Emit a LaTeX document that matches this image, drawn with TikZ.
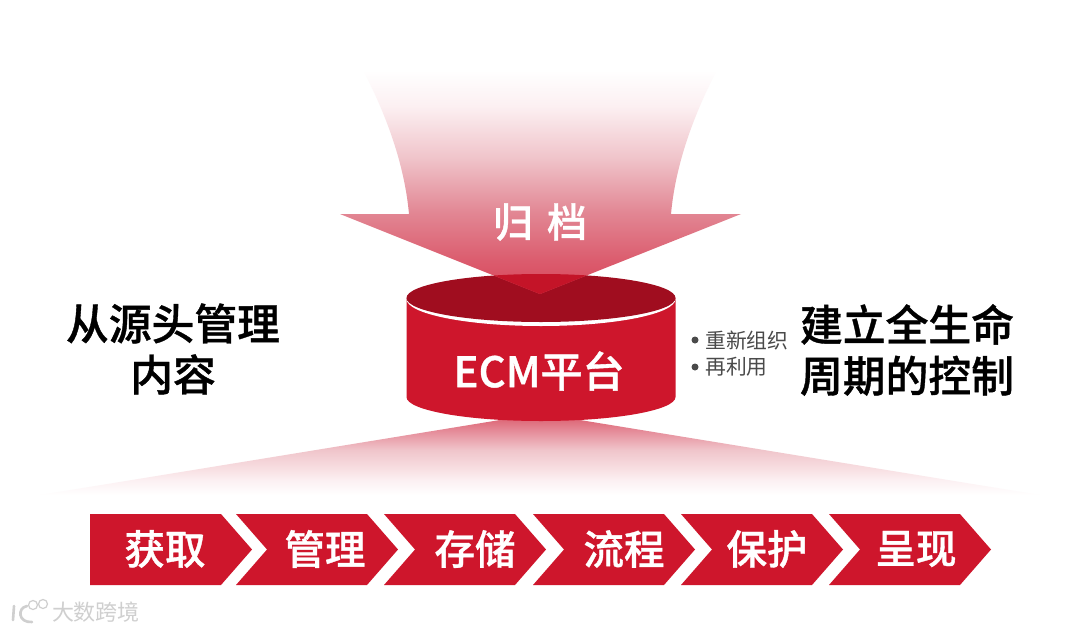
\documentclass[tikz,border=0pt]{standalone}
\usepackage{fontspec}
\setmainfont{Noto Sans CJK SC}
\newfontfamily\cjkmed[FakeBold=0.9]{Noto Sans CJK SC Medium}
\definecolor{cred}{HTML}{CE162C}
\definecolor{cdark}{HTML}{A00D1F}
\definecolor{coverlap}{HTML}{C41428}
\definecolor{cgrey}{HTML}{4A4A4A}
\definecolor{cwm}{HTML}{CFCFCF}
\definecolor{a0}{HTML}{D8475A}
\definecolor{a1}{HTML}{DB5A6C}
\definecolor{a2}{HTML}{E28794}
\definecolor{a3}{HTML}{F0C5CB}
\definecolor{a4}{HTML}{FCF0F2}
\definecolor{f1}{HTML}{F8E0E3}
\definecolor{f2}{HTML}{E58B98}
\definecolor{f3}{HTML}{DE6B7A}
\pgfdeclareverticalshading{arrowfadeb}{100bp}{
 color(0bp)=(a0); color(25bp)=(a0); color(32bp)=(a1); color(43.3bp)=(a2);
 color(55.6bp)=(a3); color(67bp)=(a4); color(75bp)=(white); color(100bp)=(white)}
\pgfdeclareverticalshading{fanfade}{100bp}{
 color(0bp)=(white); color(25bp)=(white); color(35bp)=(a4); color(42bp)=(f1); color(55bp)=(a3); color(68bp)=(f2); color(75bp)=(f3); color(100bp)=(f3)}
\tikzset{
 x=1pt,y=-1pt,
 chev/.style={fill=cred,draw=none},
 chevtext/.style={text=white,font=\fontsize{40.5}{44}\selectfont\cjkmed,inner sep=0pt},
 title/.style={text=black,font=\fontsize{42.8}{51}\selectfont\cjkmed,align=center,inner sep=0pt},
}
\begin{document}
\begin{tikzpicture}
\useasboundingbox (0,0) rectangle (1080,632);
\fill[white] (0,0) rectangle (1080,632);
% lower fan
\shade[shading=fanfade] (500,420) -- (580,420) -- (1040,495) -- (40,495) -- cycle;
% cylinder
\fill[cred] (406.5,298) -- (406.5,397) arc[start angle=180,end angle=360,x radius=134.5pt,y radius=24pt] -- (675.5,298) -- cycle;
\begin{scope}
\clip (406.5,298) rectangle (675.5,340);
\fill[white] (541,299) ellipse[x radius=134.5pt,y radius=27pt];
\end{scope}
\fill[cdark] (541,298) ellipse[x radius=134.5pt,y radius=24pt];
% arrow
\shade[shading=arrowfadeb] (363,70) .. controls (390,122) and (405,170) .. (409,214) -- (340,214) -- (540,294) -- (741,214) -- (671,214) .. controls (675,170) and (690,122) .. (717,70) -- cycle;
\begin{scope}
\clip (541,298) ellipse[x radius=134.5pt,y radius=24pt];
\fill[coverlap] (340,214) -- (540,294) -- (741,214) -- cycle;
\end{scope}
\node[text=white,font=\fontsize{40}{44}\selectfont\cjkmed,inner sep=0pt] (guidang) at (540,222) {归\hspace{14pt}档};
\node[text=white,font=\fontsize{42}{44}\selectfont\cjkmed,inner sep=0pt] (ecm) at (539,371) {ECM平台};
\node[title] (left) at (173,349) {从源头管理\\内容};
\node[title] (right) at (907,350) {建立全生命\\周期的控制};
\node[text=cgrey,font=\fontsize{20.8}{26}\selectfont,align=left,inner sep=0pt,anchor=west] (bul) at (705,354) {重新组织\\再利用};
\fill[cgrey] (695,340) circle[radius=3.5pt];
\fill[cgrey] (695,367) circle[radius=3.5pt];
% chevrons
\fill[chev] (90,514) -- (221,514) -- (252,549.5) -- (221,585) -- (90,585) -- cycle;
\fill[chev] (236,514) -- (367,514) -- (398,549.5) -- (367,585) -- (236,585) -- (267,549.5) -- cycle;
\fill[chev] (384,514) -- (515,514) -- (546,549.5) -- (515,585) -- (384,585) -- (415,549.5) -- cycle;
\fill[chev] (533,514) -- (664,514) -- (695,549.5) -- (664,585) -- (533,585) -- (564,549.5) -- cycle;
\fill[chev] (681,514) -- (812,514) -- (843,549.5) -- (812,585) -- (681,585) -- (712,549.5) -- cycle;
\fill[chev] (829,514) -- (960,514) -- (991,549.5) -- (960,585) -- (829,585) -- (860,549.5) -- cycle;
\node[chevtext] (c1) at (165,549) {获取};
\node[chevtext] (c2) at (325,549) {管理};
\node[chevtext] (c3) at (475,549) {存储};
\node[chevtext] (c4) at (624,549) {流程};
\node[chevtext] (c5) at (767,549) {保护};
\node[chevtext] (c6) at (916,549) {呈现};
% watermark
\draw[cwm,line width=2.6pt,line cap=round] (14,606) -- (13,620);
\draw[cwm,line width=2.6pt,line cap=round] (27,606) .. controls (17,608) and (18,623) .. (32,622);
\draw[cwm,line width=1.2pt] (33,605) circle[radius=4.5pt];
\draw[cwm,line width=1.2pt] (43,604) circle[radius=4.5pt];
\node[text=cwm,font=\fontsize{22}{24}\selectfont,inner sep=0pt] (wm) at (96,612) {大数跨境};
\end{tikzpicture}
\end{document}
